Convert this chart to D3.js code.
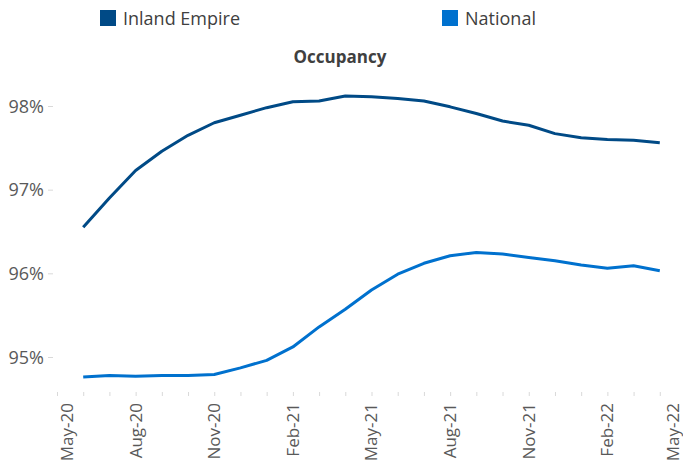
<!DOCTYPE html>
<html>
<head>
<meta charset="utf-8">
<script src="https://cdn.jsdelivr.net/npm/d3@7"></script>
<style>
  body { margin: 0; background: #fff; }
  text { font-family: "Open Sans", sans-serif; }
</style>
</head>
<body>
<div class="chart"></div>
<script>
// month labels, May-20 .. May-22 (axis ends)
let months = ['May-20','Jun-20','Jul-20','Aug-20','Sep-20','Oct-20','Nov-20','Dec-20',
  'Jan-21','Feb-21','Mar-21','Apr-21','May-21','Jun-21','Jul-21','Aug-21','Sep-21','Oct-21',
  'Nov-21','Dec-21','Jan-22','Feb-22','Mar-22','Apr-22','May-22'];

// data runs Jun-20 .. Apr-22
let inlandEmpire = [96.55, 96.90, 97.23, 97.46, 97.65, 97.80, 97.89, 97.98, 98.05, 98.06, 98.12,
  98.11, 98.09, 98.06, 97.99, 97.91, 97.82, 97.77, 97.67, 97.62, 97.60, 97.59, 97.56];
let national = [94.76, 94.78, 94.77, 94.78, 94.78, 94.79, 94.87, 94.96, 95.12, 95.36, 95.57,
  95.80, 95.99, 96.12, 96.21, 96.25, 96.23, 96.19, 96.15, 96.10, 96.06, 96.09, 96.03];

let yTicks = [95, 96, 97, 98];
let xLabels = ['May-20','Aug-20','Nov-20','Feb-21','May-21','Aug-21','Nov-21','Feb-22','May-22'];

let colors = { inland: '#004a86', national: '#0071ce' };

let width = 683, height = 469;
let baseY = 392;

let svg = d3.select('.chart')
  .append('svg')
    .attr('width', width)
    .attr('height', height);

let xScale = d3.scaleLinear()
  .domain([0, months.length - 1])
  .range([57, 686]);

let yScale = d3.scaleLinear()
  .domain([95, 98])
  .range([357, 106]);

// y axis: labels + faint ticks
let yAxis = d3.axisLeft(yScale)
  .tickValues(yTicks)
  .tickSize(5)
  .tickPadding(4)
  .tickFormat(d => d + '%');

svg.append('g')
    .attr('transform', 'translate(53, 0)')
  .call(yAxis)
  .call(g => g.select('.domain').remove())
  .call(g => g.selectAll('line').attr('stroke', '#d9d9d9'))
  .call(g => g.selectAll('text')
    .attr('fill', '#595959')
    .style('font-size', '18px')
    .attr('dy', '0.35em'));

// x axis: monthly faint ticks
let monthIdx = d3.range(0, months.length - 1);
svg.append('g')
    .attr('transform', `translate(0, ${baseY})`)
  .call(d3.axisBottom(xScale).tickValues(monthIdx).tickSize(4).tickFormat(''))
  .call(g => g.select('.domain').remove())
  .call(g => g.selectAll('line').attr('stroke', '#d9d9d9'));

// x labels every 3 months, rotated; edge labels kept inside the frame
svg.append('g')
  .selectAll('text')
  .data(xLabels)
  .join('text')
    .attr('transform', d => {
      let x = Math.max(67, Math.min(673, xScale(months.indexOf(d))));
      return `translate(${x}, 403) rotate(-90)`;
    })
    .attr('text-anchor', 'end')
    .attr('dy', '0.35em')
    .attr('fill', '#595959')
    .style('font-size', '17px')
    .text(d => d);

let line = d3.line()
  .x((d, i) => xScale(i + 1))
  .y(d => yScale(d));

svg.append('path')
  .datum(national)
  .attr('fill', 'none')
  .attr('stroke', colors.national)
  .attr('stroke-width', 3)
  .attr('stroke-linejoin', 'round')
  .attr('d', line);

svg.append('path')
  .datum(inlandEmpire)
  .attr('fill', 'none')
  .attr('stroke', colors.inland)
  .attr('stroke-width', 3)
  .attr('stroke-linejoin', 'round')
  .attr('d', line);

// title
svg.append('text')
  .attr('x', 340)
  .attr('y', 63)
  .attr('text-anchor', 'middle')
  .attr('fill', '#404040')
  .style('font-size', '17px')
  .style('font-weight', 'bold')
  .text('Occupancy');

// legend
let legend = [
  { name: 'Inland Empire', color: colors.inland, x: 100 },
  { name: 'National', color: colors.national, x: 442 }
];
let lg = svg.append('g').selectAll('g')
  .data(legend)
  .join('g')
    .attr('transform', d => `translate(${d.x}, 10)`);
lg.append('rect')
  .attr('width', 16)
  .attr('height', 16)
  .attr('fill', d => d.color);
lg.append('text')
  .attr('x', 23)
  .attr('y', 15)
  .attr('fill', '#404040')
  .style('font-size', '18px')
  .text(d => d.name);
</script>
</body>
</html>
